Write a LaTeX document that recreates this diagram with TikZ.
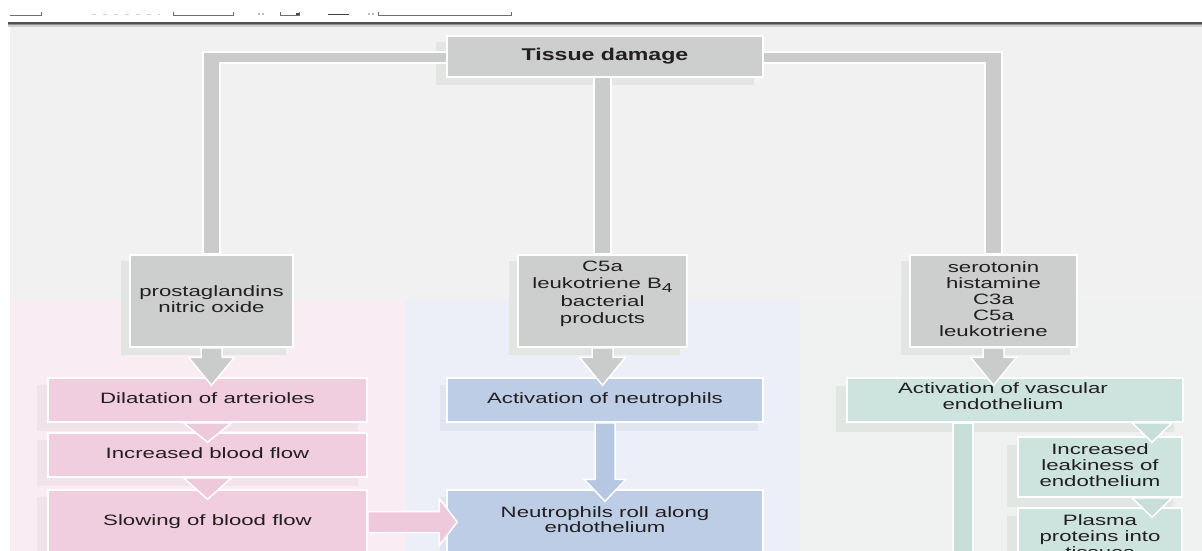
\documentclass[tikz,border=0pt]{standalone}
\usepackage{fontspec}
\setmainfont{Liberation Sans}
\usepackage{graphicx}
\usetikzlibrary{calc}
\pgfdeclarelayer{bg}
\pgfsetlayers{bg,main}

\definecolor{bgc}{HTML}{F0F1F0}
\definecolor{txt}{HTML}{231F20}
\definecolor{greybox}{HTML}{CCCFCD}
\definecolor{greybar}{HTML}{C9CCCA}
\definecolor{greyshad}{HTML}{E3E5E3}
\definecolor{barshad}{HTML}{E7E9E7}
\definecolor{pinkreg}{HTML}{F9EDF3}
\definecolor{pinkbox}{HTML}{F1CDE0}
\definecolor{pinkarr}{HTML}{EEC8DB}
\definecolor{pinkshad}{HTML}{F2E2EA}
\definecolor{bluereg}{HTML}{EDEFF8}
\definecolor{bluebox}{HTML}{BDCDE6}
\definecolor{bluearr}{HTML}{B6C7E1}
\definecolor{blueshad}{HTML}{E1E5F0}
\definecolor{tealbox}{HTML}{CCE4DD}
\definecolor{tealbar}{HTML}{C7DFD8}
\definecolor{tealshad}{HTML}{E1E6E3}
\definecolor{tealreg}{HTML}{EEF1EF}
\definecolor{uiline}{HTML}{6E6E6E}
\definecolor{uidark}{HTML}{3A4658}
\definecolor{uifaint}{HTML}{D9CBCB}
\definecolor{uidot}{HTML}{BDBDBD}
\definecolor{tbA}{HTML}{505050}
\definecolor{tbB}{HTML}{8C8C8C}
\definecolor{tbC}{HTML}{CFCFCF}

\newcommand{\hs}[2][1.48]{\scalebox{#1}[1]{\begin{tabular}{@{}c@{}}#2\end{tabular}}}
\newcommand{\lift}[2]{\raisebox{#1}[\height][\depth]{#2}}
% vertical block arrow: from, tip, half shaft, half head, head length, style
\newcommand{\varrow}[6]{\filldraw[#6] let \p1=(#1), \p2=(#2) in
  (\x1-#3pt,\y1) -- (\x1-#3pt,\y2+#5pt) -- (\x1-#4pt,\y2+#5pt) -- (\x1,\y2)
  -- (\x1+#4pt,\y2+#5pt) -- (\x1+#3pt,\y2+#5pt) -- (\x1+#3pt,\y1) -- cycle;}
% horizontal block arrow
\newcommand{\harrow}[6]{\filldraw[#6] let \p1=(#1), \p2=(#2) in
  (\x1,\y1+#3pt) -- (\x2-#5pt,\y1+#3pt) -- (\x2-#5pt,\y1+#4pt) -- (\x2,\y1)
  -- (\x2-#5pt,\y1-#4pt) -- (\x2-#5pt,\y1-#3pt) -- (\x1,\y1-#3pt) -- cycle;}
% triangle head only: top (x,y), tip y, half width
\newcommand{\vtri}[4]{\filldraw[#4] let \p1=(#1), \p2=(#2) in
  (\x1-#3pt,\y1) -- (\x1,\y2) -- (\x1+#3pt,\y1) -- cycle;}
\newcommand{\shadowof}[4]{\fill[#4] ($(#1.south west)+(#2,#3)$) rectangle ($(#1.north east)+(#2,#3)$);}
% branching bar system from the title to the three grey boxes
\newcommand{\branchbars}[1]{\filldraw[#1] let \p1=(g1.north), \p2=(g3.north), \p3=(g2.north), \p4=(title.center) in
    (\x1-8.5pt,\y1) -- (\x1-8.5pt,\y4+4.5pt) -- (\x2+8.5pt,\y4+4.5pt) -- (\x2+8.5pt,\y2)
    -- (\x2-8.5pt,\y2) -- (\x2-8.5pt,\y4-6.5pt) -- (\x3+8.5pt,\y4-6.5pt) -- (\x3+8.5pt,\y3)
    -- (\x3-8.5pt,\y3) -- (\x3-8.5pt,\y4-6.5pt) -- (\x1+8.5pt,\y4-6.5pt) -- (\x1+8.5pt,\y1) -- cycle;}

\begin{document}
\begin{tikzpicture}[x=1pt,y=-1pt,
  box/.style={rectangle, draw=white, line width=1.5pt, inner sep=0pt, text=txt,
    font=\fontsize{15}{16}\selectfont},
  gbox/.style={box, fill=greybox},
  pbox/.style={box, fill=pinkbox},
  bbox/.style={box, fill=bluebox},
  tbox/.style={box, fill=tealbox},
  garr/.style={fill=greybar, draw=white, line width=1.5pt, line join=miter},
  parr/.style={fill=pinkarr, draw=white, line width=1.5pt, line join=miter},
  barr/.style={fill=bluearr, draw=white, line width=1.5pt, line join=miter},
  tarr/.style={fill=tealbar, draw=white, line width=1.5pt, line join=miter},
  barst/.style={fill=greybar, draw=white, line width=1.6pt, line join=miter},
  barsh/.style={fill=barshad, draw=none}
]
\useasboundingbox (0,0) rectangle (1202,551);

% ---------- nodes ----------
\node[gbox, minimum width=316pt, minimum height=41pt] (title) at (605,56.5)
  {\scalebox{1.36}[1]{\fontsize{17}{20}\selectfont\bfseries Tissue damage}};

\node[gbox, minimum width=163pt, minimum height=92pt] (g1) at (211.5,301)
  {\hs{prostaglandins\\nitric oxide}};
\node[gbox, minimum width=169pt, minimum height=92pt] (g2) at (602.5,301)
  {\lift{7pt}{\fontsize{15}{17.5}\selectfont\hs{C5a\\leukotriene B\raisebox{-0.45ex}{\fontsize{13}{13}\selectfont 4}\\bacterial\\products}}};
\node[gbox, minimum width=167pt, minimum height=92pt] (g3) at (993.5,301)
  {\hs{serotonin\\histamine\\C3a\\C5a\\leukotriene}};

\node[pbox, minimum width=319pt, minimum height=44pt] (p1) at (207.5,400)
  {\hs{Dilatation of arterioles}};
\node[pbox, minimum width=319pt, minimum height=44pt] (p2) at (207.5,455)
  {\hs{Increased blood flow}};
\node[pbox, minimum width=319pt, minimum height=64pt] (p3) at (207.5,522)
  {\hs{Slowing of blood flow}};

\node[bbox, minimum width=316pt, minimum height=44pt] (b1) at (605,400)
  {\hs{Activation of neutrophils}};
\node[bbox, minimum width=316pt, minimum height=64pt] (b2) at (605,522)
  {\fontsize{15}{14}\selectfont\hs{Neutrophils roll along\\endothelium}};

\node[tbox, minimum width=336pt, minimum height=44pt] (t1) at (1015,400)
  {\lift{1.5pt}{\hs{Activation of vascular\\endothelium}}\hspace*{24pt}};
\node[tbox, minimum width=164pt, minimum height=60pt] (t2) at (1100,467)
  {\hs{Increased\\leakiness of\\endothelium}};
\node[tbox, minimum width=164pt, minimum height=60pt] (t3) at (1100,538)
  {\hs{Plasma\\proteins into\\tissues}};
\coordinate (tdown) at (963,570);

% ---------- background layer ----------
\begin{pgfonlayer}{bg}
  \fill[white] (0,0) rectangle (1202,551);
  \fill[bgc] (10,24) rectangle (1202,551);
  \fill[tbA] (8,22) rectangle (1202,24.5);
  \fill[tbB] (8,24.5) rectangle (1202,25.5);
  \fill[tbC] (8,25.5) rectangle (1202,27);
  % toolbar remnants
  \draw[uiline, line width=0.8pt] (10,15) -- (41,15) -- (41,12.5);
  \draw[uiline, line width=0.8pt] (173.5,12.5) -- (173.5,15) -- (233.5,15) -- (233.5,12.5);
  \draw[uiline, line width=0.8pt] (280.5,12.5) -- (280.5,15) -- (299.5,15) -- (299.5,12.5);
  \fill[uidark] (296,13) rectangle (299,15.5);
  \draw[uidark, line width=1.8pt] (328,14.5) -- (349,14.5);
  \draw[uiline, line width=0.8pt] (378.5,12.5) -- (378.5,15) -- (511.5,15) -- (511.5,12.5);
  \draw[uifaint, line width=0.8pt, dash pattern=on 4pt off 7pt] (92,14) -- (160,14);
  \fill[uidot] (258,13.5) rectangle (260,15);
  \fill[uidot] (262,13.5) rectangle (264,15);
  \fill[uidot] (368,13.5) rectangle (370,15);
  \fill[uidot] (372,13.5) rectangle (374,15);
  % coloured regions
  \fill[pinkreg] (10,300) rectangle (405,551);
  \fill[bluereg] (405,300) rectangle (800,551);
  \fill[tealreg] (800,300) rectangle (1202,551);
  % shadows
  \begin{scope}[xshift=-11pt, yshift=-8pt]
    \branchbars{barsh}
  \end{scope}
  \shadowof{title}{-10}{7}{greyshad}
  \shadowof{g1}{-8}{7}{greyshad}
  \shadowof{g2}{-8}{7}{greyshad}
  \shadowof{g3}{-8}{7}{greyshad}
  \shadowof{p1}{-10}{8}{pinkshad}
  \shadowof{p2}{-10}{8}{pinkshad}
  \shadowof{p3}{-10}{8}{pinkshad}
  \shadowof{b1}{-6}{8}{blueshad}
  \shadowof{b2}{-6}{8}{blueshad}
  \shadowof{t1}{-10}{9}{tealshad}
  \shadowof{t2}{-10}{9}{tealshad}
  \shadowof{t3}{-10}{9}{tealshad}
  % branching bars from Tissue damage
  \branchbars{barst}
\end{pgfonlayer}

% ---------- connectors ----------
\varrow{g1.south}{$(p1.north)+(0,8)$}{10.5}{23}{28}{garr}
\varrow{g2.south}{$(b1.north)+(0,8)$}{10.5}{23}{28}{garr}
\varrow{g3.south}{$(t1.north)+(0,8)$}{10.5}{23}{28}{garr}

\vtri{p1.south}{$(p2.north)+(0,10)$}{24}{parr}
\vtri{p2.south}{$(p3.north)+(0,10)$}{24}{parr}

\varrow{b1.south}{$(b2.north)+(0,12)$}{10}{21}{22}{barr}
\harrow{p3.east}{$(b2.west)+(11,0)$}{10.5}{23.5}{18}{parr}

\filldraw[tarr] let \p1=(tdown), \p2=(t1.south) in
  (\x1-10pt,\y2) rectangle (\x1+10pt,\y1);
\vtri{$(t1.south)+(137,0)$}{$(t2.north)+(52,6)$}{20}{tarr}
\vtri{$(t2.south)+(52,0)$}{$(t3.north)+(52,10)$}{20}{tarr}
\end{tikzpicture}
\end{document}
